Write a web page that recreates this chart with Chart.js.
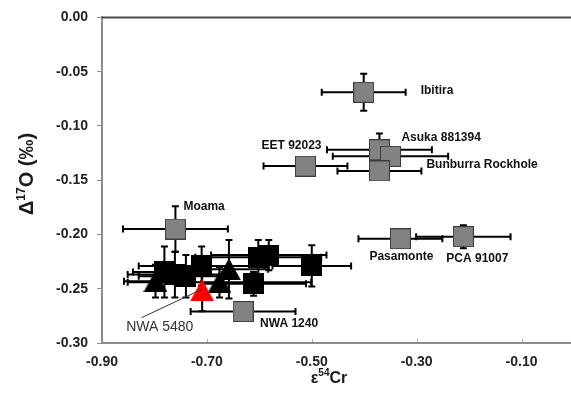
<!DOCTYPE html>
<html>
<head>
<meta charset="utf-8">
<script src="https://cdn.jsdelivr.net/npm/chart.js@4.4.0/dist/chart.umd.min.js"></script>
<style>
  html, body { margin: 0; padding: 0; overflow: hidden; background: #fff; }
  #wrap { width: 580px; height: 404px; }
</style>
</head>
<body>
<div id="wrap"><canvas id="chart" width="580" height="404"></canvas></div>
<script>
// axis ticks
const xTicks = [-0.9, -0.7, -0.5, -0.3, -0.1];
const yTicks = [-0.3, -0.25, -0.2, -0.15, -0.1, -0.05, 0];

// named meteorites (grey squares)
const grayNames = ["Ibitira", "Asuka 881394", "", "Bunburra Rockhole", "EET 92023", "Moama", "Pasamonte", "PCA 91007", "NWA 1240"];
const grayX = [-0.401, -0.371, -0.350, -0.371, -0.512, -0.760, -0.331, -0.211, -0.631];
const grayY = [-0.069, -0.122, -0.128, -0.1415, -0.137, -0.195, -0.204, -0.202, -0.271];
const grayXErr = [0.08, 0.10, 0.11, 0.08, 0.08, 0.10, 0.08, 0.09, 0.10];
const grayYErr = [0.017, 0.015, 0.008, 0.008, 0.006, 0.021, 0.006, 0.0106, 0.006];

// black squares
const sqX = [-0.781, -0.761, -0.740, -0.710, -0.602, -0.582, -0.611, -0.500];
const sqY = [-0.2345, -0.237, -0.2385, -0.229, -0.221, -0.219, -0.2455, -0.229];
const sqXErr = [0.06, 0.09, 0.09, 0.12, 0.12, 0.11, 0.10, 0.075];
const sqYErr = [0.0235, 0.021, 0.0195, 0.018, 0.016, 0.014, 0.011, 0.019];

// black triangles
const triX = [-0.798, -0.676, -0.658];
const triY = [-0.243, -0.244, -0.232];
const triXErr = [0.06, 0.175, 0.075];
const triYErr = [0.015, 0.014, 0.027];

// NWA 5480 (red triangle)
const redNames = ["NWA 5480"];
const redX = [-0.709];
const redY = [-0.2513];
const redXErr = [0];
const redYErr = [0.0195];

// label placement, px from the marker centre (left edge, middle)
const grayLabelPos = [[57, -2], [22, -12], [0, 0], [47, -6], [-44, -20.5], [8, -22], [-31, 17.5], [-17, 22], [17, 12.5]];
const redLabelPos = [[-76, 37]];
const redLeader = [[-60.5, 27.5], [0, -1]];

const FONT = "'Liberation Sans', Arial, sans-serif";

function makeSquare(side, fill, stroke) {
  const c = document.createElement("canvas");
  c.width = side;
  c.height = side;
  const g = c.getContext("2d");
  g.fillStyle = stroke || fill;
  g.fillRect(0, 0, side, side);
  if (stroke) {
    g.fillStyle = fill;
    g.fillRect(1, 1, side - 2, side - 2);
  }
  return c;
}

function makeTriangle(w, h, fill) {
  const c = document.createElement("canvas");
  c.width = w;
  c.height = h;
  const g = c.getContext("2d");
  g.fillStyle = fill;
  g.beginPath();
  g.moveTo(w / 2, 0);
  g.lineTo(w, h);
  g.lineTo(0, h);
  g.closePath();
  g.fill();
  return c;
}

function points(xs, ys) {
  return xs.map((x, i) => ({ x, y: ys[i] }));
}

const errorBars = {
  id: "errorBars",
  beforeDatasetsDraw(chart) {
    const { ctx, scales } = chart;
    ctx.save();
    ctx.strokeStyle = "#000";
    ctx.lineWidth = 2;
    const cap = 3.5;
    chart.data.datasets.forEach((ds) => {
      ds.data.forEach((p, i) => {
        const cx = scales.x.getPixelForValue(p.x);
        const cy = scales.y.getPixelForValue(p.y);
        const xe = ds.xErr[i];
        const ye = ds.yErr[i];
        ctx.beginPath();
        if (xe) {
          const x1 = scales.x.getPixelForValue(p.x - xe);
          const x2 = scales.x.getPixelForValue(p.x + xe);
          ctx.moveTo(x1, cy); ctx.lineTo(x2, cy);
          ctx.moveTo(x1, cy - cap); ctx.lineTo(x1, cy + cap);
          ctx.moveTo(x2, cy - cap); ctx.lineTo(x2, cy + cap);
        }
        if (ye) {
          const y1 = scales.y.getPixelForValue(p.y + ye);
          const y2 = scales.y.getPixelForValue(p.y - ye);
          ctx.moveTo(cx, y1); ctx.lineTo(cx, y2);
          ctx.moveTo(cx - cap, y1); ctx.lineTo(cx + cap, y1);
          ctx.moveTo(cx - cap, y2); ctx.lineTo(cx + cap, y2);
        }
        ctx.stroke();
      });
    });
    ctx.restore();
  },
};

const decorations = {
  id: "decorations",
  afterDatasetsDraw(chart) {
    const { ctx } = chart;
    ctx.save();
    // labels for grey squares
    const gMeta = chart.getDatasetMeta(1);
    ctx.font = "bold 12px " + FONT;
    ctx.fillStyle = "#111";
    ctx.textBaseline = "middle";
    ctx.textAlign = "left";
    grayNames.forEach((name, i) => {
      if (!name) return;
      const el = gMeta.data[i];
      ctx.fillText(name, el.x + grayLabelPos[i][0], el.y + grayLabelPos[i][1]);
    });
    // NWA 5480 label + leader line
    const r = chart.getDatasetMeta(0).data[0];
    ctx.strokeStyle = "#333";
    ctx.lineWidth = 1;
    ctx.beginPath();
    ctx.moveTo(r.x + redLeader[0][0], r.y + redLeader[0][1]);
    ctx.lineTo(r.x + redLeader[1][0], r.y + redLeader[1][1]);
    ctx.stroke();
    ctx.font = "14px " + FONT;
    ctx.fillStyle = "#333";
    ctx.fillText(redNames[0], r.x + redLabelPos[0][0], r.y + redLabelPos[0][1]);
    ctx.restore();
  },
  afterDraw(chart) {
    const { ctx, chartArea, scales } = chart;
    ctx.save();
    // top frame line
    ctx.strokeStyle = "#4a4a4a";
    ctx.lineWidth = 2;
    ctx.beginPath();
    ctx.moveTo(chartArea.left, chartArea.top);
    ctx.lineTo(chartArea.right, chartArea.top);
    ctx.stroke();
    // small inward ticks on the x axis
    ctx.strokeStyle = "#aaa";
    ctx.lineWidth = 1;
    ctx.beginPath();
    xTicks.slice(1).forEach((v) => {
      const x = Math.round(scales.x.getPixelForValue(v)) + 0.5;
      ctx.moveTo(x, chartArea.bottom - 1);
      ctx.lineTo(x, chartArea.bottom - 4);
    });
    ctx.stroke();

    ctx.fillStyle = "#1a1a1a";
    ctx.textBaseline = "alphabetic";
    ctx.textAlign = "left";
    // x title: ε54Cr
    drawRich(ctx, [["ε", "bold 16px", 0], ["54", "bold 10px", 7], ["Cr", "bold 16px", 0]], 329, 383);
    // y title: Δ17O (‰)
    ctx.translate(33, 174);
    ctx.rotate(-Math.PI / 2);
    drawRich(ctx, [["Δ", "bold 20px", 0], ["17", "bold 12px", 8], ["O (‰)", "bold 20px", 0]], 0, 0);
    ctx.restore();
  },
};

function drawRich(ctx, parts, cx, baseline) {
  let total = 0;
  parts.forEach((p) => {
    ctx.font = p[1] + " " + FONT;
    total += ctx.measureText(p[0]).width;
  });
  let x = cx - total / 2;
  parts.forEach((p) => {
    ctx.font = p[1] + " " + FONT;
    ctx.fillText(p[0], x, baseline - p[2]);
    x += ctx.measureText(p[0]).width;
  });
}

const tickFont = { family: FONT, size: 14, weight: "bold" };

new Chart(document.getElementById("chart"), {
  type: "scatter",
  data: {
    datasets: [
      {
        label: "NWA 5480",
        data: points(redX, redY),
        xErr: redXErr,
        yErr: redYErr,
        pointStyle: makeTriangle(24, 22, "#ff0000"),
      },
      {
        label: "Named",
        data: points(grayX, grayY),
        xErr: grayXErr,
        yErr: grayYErr,
        pointStyle: makeSquare(21, "#828282", "#3c3c3c"),
      },
      {
        label: "Squares",
        data: points(sqX, sqY),
        xErr: sqXErr,
        yErr: sqYErr,
        pointStyle: makeSquare(21, "#000"),
      },
      {
        label: "Triangles",
        data: points(triX, triY),
        xErr: triXErr,
        yErr: triYErr,
        pointStyle: makeTriangle(24, 22, "#000"),
      },
    ],
  },
  options: {
    responsive: false,
    devicePixelRatio: 1,
    animation: false,
    events: [],
    layout: { padding: { top: 11, right: 6, bottom: 0, left: 0 } },
    plugins: { legend: { display: false }, tooltip: { enabled: false } },
    scales: {
      x: {
        type: "linear",
        min: -0.9,
        max: 0,
        afterBuildTicks: (s) => { s.ticks = xTicks.map((v) => ({ value: v })); },
        afterFit: (s) => { s.height = 61; },
        ticks: {
          font: tickFont,
          color: "#222",
          padding: 11,
          maxRotation: 0,
          autoSkip: false,
          callback: (v) => Number(v).toFixed(2),
        },
        grid: { drawOnChartArea: false, drawTicks: false },
        border: { display: true, color: "#8c8c8c", width: 2 },
      },
      y: {
        type: "linear",
        min: -0.3,
        max: 0,
        afterBuildTicks: (s) => { s.ticks = yTicks.map((v) => ({ value: v })); },
        afterFit: (s) => { s.width = 102; },
        ticks: {
          font: tickFont,
          color: "#222",
          padding: 9,
          autoSkip: false,
          callback: (v) => (Math.abs(v) < 1e-9 ? "0.00" : Number(v).toFixed(2)),
        },
        grid: { drawOnChartArea: false, drawTicks: true, tickLength: 5, color: "#8c8c8c" },
        border: { display: true, color: "#8c8c8c", width: 2 },
      },
    },
  },
  plugins: [errorBars, decorations],
});
</script>
</body>
</html>
